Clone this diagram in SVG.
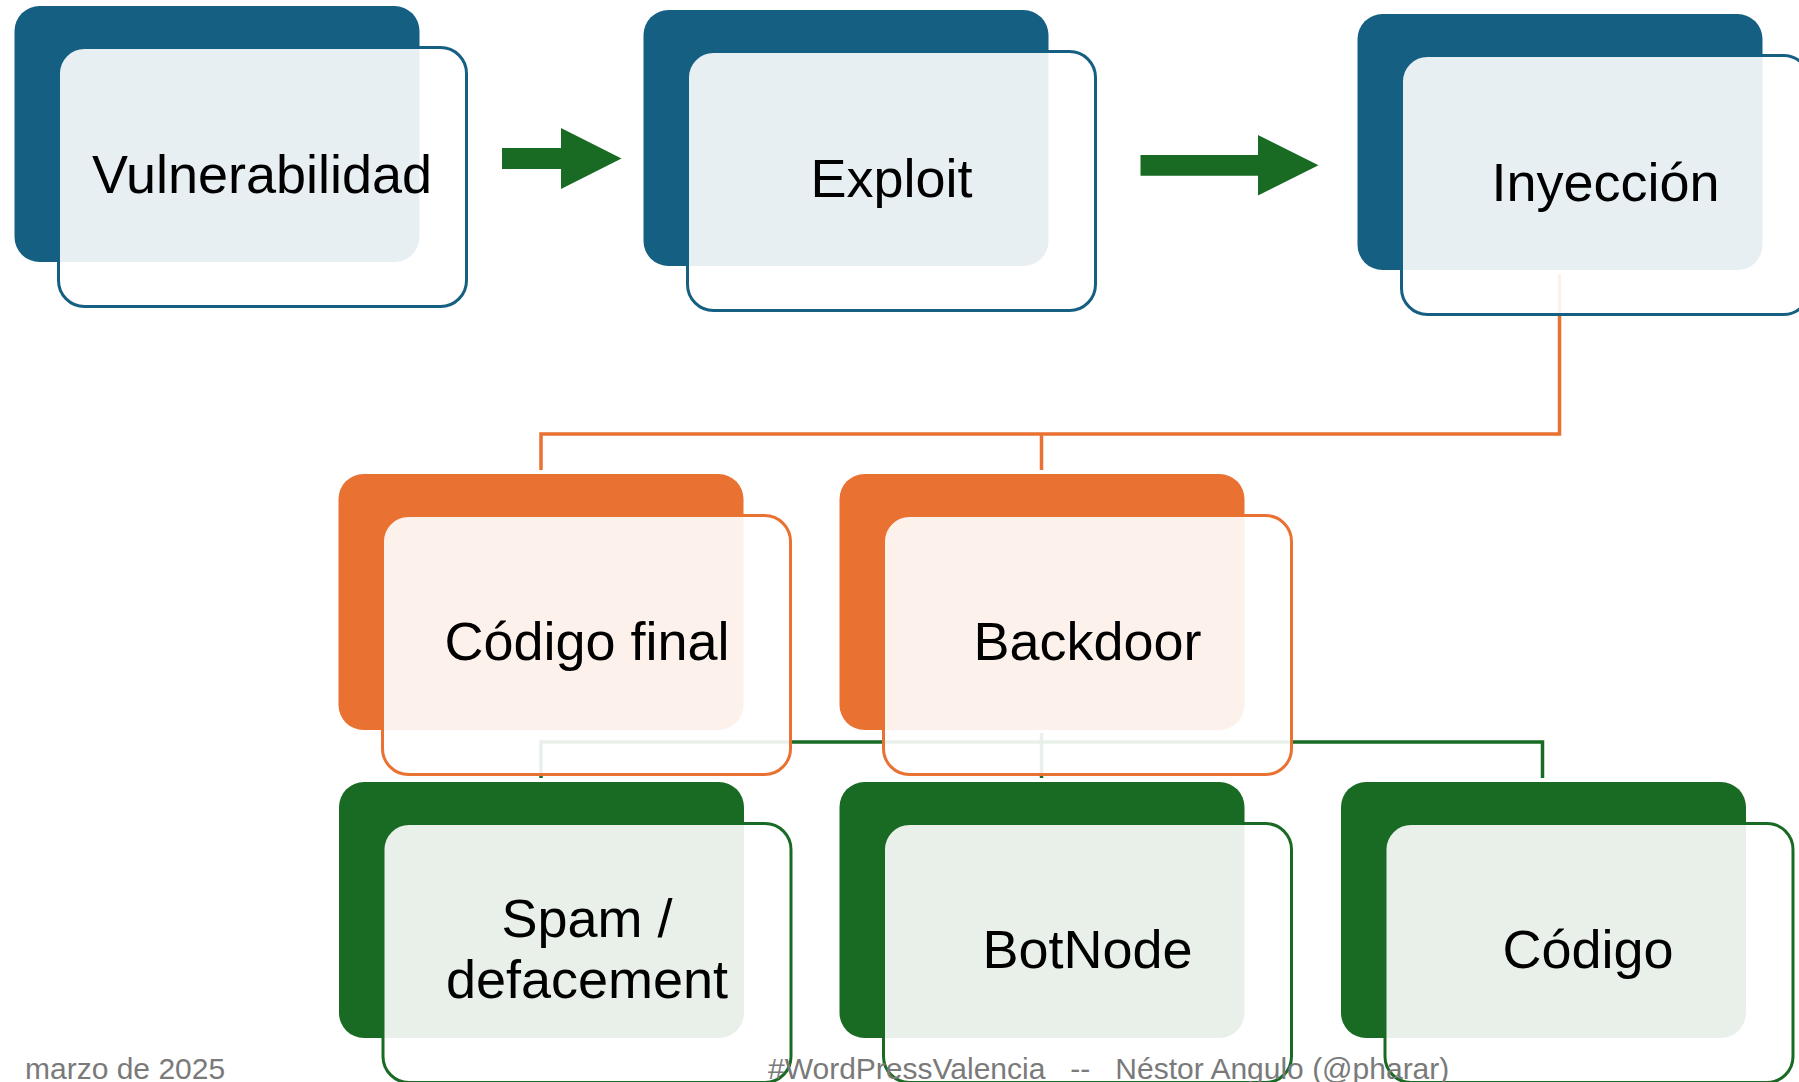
<svg xmlns="http://www.w3.org/2000/svg" width="1799" height="1082" viewBox="0 0 1799 1082">
<style>
.bg{fill:#ffffff}
.dk-b{fill:#156082}.dk-o{fill:#E97132}.dk-g{fill:#196B24}
.lt{fill:#ffffff;fill-opacity:0.9;stroke-width:3}
.lt-b{stroke:#156082}.lt-o{stroke:#E97132}.lt-g{stroke:#196B24}
.lbl{font-family:"Liberation Sans",Arial,sans-serif;font-size:54px;fill:#000000;text-anchor:middle}
.con{fill:none;stroke-width:3.5}
.arrow{fill:#196B24}
.foot{font-family:"Liberation Sans",Arial,sans-serif;font-size:30px;fill:#7a7a7a}
</style>
<rect class="bg" x="0" y="0" width="1799" height="1082"/>
<g id="connectors">
  <path class="con" stroke="#E97132" d="M1559.5 274 V434 H541 V470 M1041.5 434 V470"/>
  <path class="con" stroke="#196B24" d="M1041.5 733 V742 M541 778 V742 H1542.5 V778 M1041.5 742 V778"/>
  <polygon class="arrow" points="502,148 561,148 561,128 621.5,158.5 561,189 561,169 502,169"/>
  <polygon class="arrow" points="1140.5,155 1258,155 1258,135 1318.5,165.3 1258,195.5 1258,175.7 1140.5,175.7"/>
</g>
<g id="node-vulnerabilidad">
  <rect class="dk-b" x="14.5" y="6" width="405" height="256" rx="25"/>
  <rect class="lt lt-b" x="58.5" y="47.5" width="408" height="259" rx="26"/>
  <text class="lbl" x="262" y="192.5">Vulnerabilidad</text>
</g>
<g id="node-exploit">
  <rect class="dk-b" x="643.5" y="10" width="405" height="256" rx="25"/>
  <rect class="lt lt-b" x="687.5" y="51.5" width="408" height="259" rx="26"/>
  <text class="lbl" x="891.5" y="197.3">Exploit</text>
</g>
<g id="node-inyeccion">
  <rect class="dk-b" x="1357.5" y="14" width="405" height="256" rx="25"/>
  <rect class="lt lt-b" x="1401.5" y="55.5" width="408" height="259" rx="26"/>
  <text class="lbl" x="1605.5" y="201">Inyección</text>
</g>
<g id="node-codigo-final">
  <rect class="dk-o" x="338.5" y="474" width="405" height="256" rx="25"/>
  <rect class="lt lt-o" x="382.5" y="515.5" width="408" height="259" rx="26"/>
  <text class="lbl" x="587" y="660">Código final</text>
</g>
<g id="node-backdoor">
  <rect class="dk-o" x="839.5" y="474" width="405" height="256" rx="25"/>
  <rect class="lt lt-o" x="883.5" y="515.5" width="408" height="259" rx="26"/>
  <text class="lbl" x="1087.5" y="660">Backdoor</text>
</g>
<g id="node-spam">
  <rect class="dk-g" x="339" y="782" width="405" height="256" rx="25"/>
  <rect class="lt lt-g" x="383" y="823.5" width="408" height="259" rx="26"/>
  <text class="lbl" x="587" y="936.7">Spam /</text>
  <text class="lbl" x="587" y="998.3">defacement</text>
</g>
<g id="node-botnode">
  <rect class="dk-g" x="839.5" y="782" width="405" height="256" rx="25"/>
  <rect class="lt lt-g" x="883.5" y="823.5" width="408" height="259" rx="26"/>
  <text class="lbl" x="1087.5" y="968.3">BotNode</text>
</g>
<g id="node-codigo">
  <rect class="dk-g" x="1341" y="782" width="405" height="256" rx="25"/>
  <rect class="lt lt-g" x="1385" y="823.5" width="408" height="259" rx="26"/>
  <text class="lbl" x="1588" y="968.3">Código</text>
</g>
<g id="footer">
  <text class="foot" x="25" y="1079">marzo de 2025</text>
  <text class="foot" x="768" y="1079" xml:space="preserve" style="white-space:pre">#WordPressValencia   --   Néstor Angulo (@pharar)</text>
</g>
</svg>
